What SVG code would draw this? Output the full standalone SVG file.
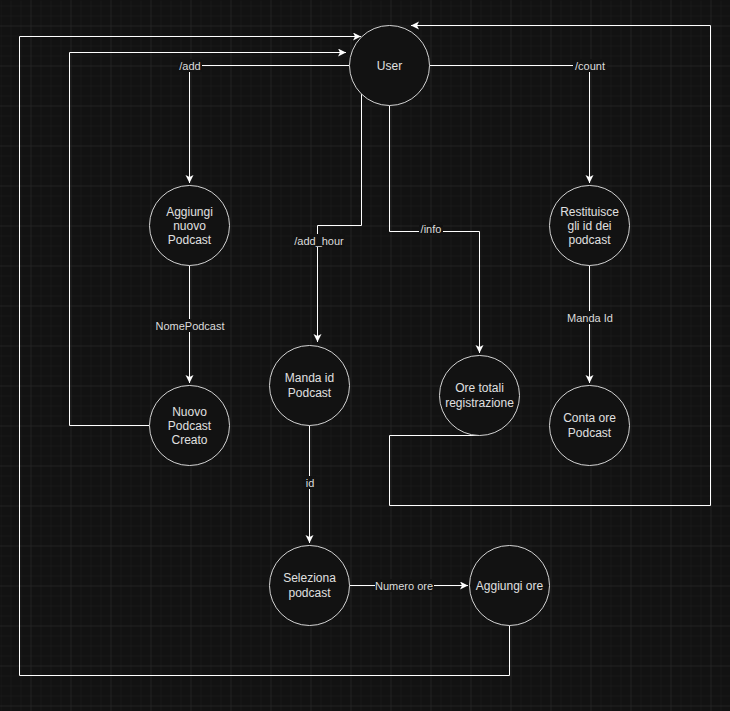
<svg xmlns="http://www.w3.org/2000/svg" width="730" height="711" viewBox="0 0 730 711">
<defs>
<pattern id="minor" width="10" height="10" patternUnits="userSpaceOnUse" x="0" y="5">
<path d="M10 0H0V10" fill="none" stroke="#1d1d1d" stroke-width="1"/>
</pattern>
<pattern id="major" width="40" height="40" patternUnits="userSpaceOnUse" x="30.5" y="25.5">
<path d="M40 0H0V40" fill="none" stroke="#2a2a2a" stroke-width="1"/>
</pattern>
<marker id="arr" markerWidth="10" markerHeight="10" refX="8" refY="4" orient="auto" markerUnits="userSpaceOnUse">
<path d="M0 0 L8 4 L0 8 L2 4 Z" fill="#ffffff"/>
</marker>
<style>
.bg{fill:#121212}
.node circle{fill:#121212;stroke:#d4d4d4;stroke-width:1}
.node text{font-family:"Liberation Sans",Arial,sans-serif;font-size:12px;fill:#e0e0e0;text-anchor:middle}
.edge{fill:none;stroke:#ffffff;stroke-width:1}
.lbl rect{fill:#121212}
.lbl text{font-family:"Liberation Sans",Arial,sans-serif;font-size:11px;fill:#dcdcdc;text-anchor:middle}
</style>
</defs>
<rect class="bg" x="0" y="0" width="730" height="711"/>
<rect x="0" y="0" width="730" height="711" fill="url(#minor)" transform="translate(0.5,0.5)"/>
<rect x="0" y="0" width="730" height="711" fill="url(#major)"/>
<g id="connectors">
<path class="edge" d="M349.5 65.5H189.5V183" marker-end="url(#arr)"/>
<path class="edge" d="M429.5 65.5H589.5V183" marker-end="url(#arr)"/>
<path class="edge" d="M189.5 265.5V383" marker-end="url(#arr)"/>
<path class="edge" d="M589.5 265.5V383" marker-end="url(#arr)"/>
<path class="edge" d="M361.5 93.5V225.5H317.5V342" marker-end="url(#arr)"/>
<path class="edge" d="M389.5 105.5V231.5H479.5V353" marker-end="url(#arr)"/>
<path class="edge" d="M309.5 425.5V543" marker-end="url(#arr)"/>
<path class="edge" d="M349.5 585.5H468" marker-end="url(#arr)"/>
<path class="edge" d="M149.5 425.5H69.5V52.5H346" marker-end="url(#arr)"/>
<path class="edge" d="M509.5 625.5V675.5H19.5V36.5H361" marker-end="url(#arr)"/>
<path class="edge" d="M479.5 435.5H389.5V505.5H710.5V25.5H411" marker-end="url(#arr)"/>
<g class="lbl">
<rect x="178" y="59" width="24" height="13"/><text x="190" y="70">/add</text>
<rect x="573" y="59" width="34" height="13"/><text x="590" y="70">/count</text>
<rect x="156" y="319" width="68" height="13"/><text x="190" y="330">NomePodcast</text>
<rect x="566" y="311" width="48" height="13"/><text x="590" y="322">Manda Id</text>
<rect x="293" y="234" width="52" height="13"/><text x="319" y="245">/add_hour</text>
<rect x="419" y="222" width="24" height="13"/><text x="431" y="233">/info</text>
<rect x="304" y="476" width="12" height="13"/><text x="310" y="487">id</text>
<rect x="375" y="579" width="59" height="13"/><text x="404" y="590">Numero ore</text>
</g>
</g>
<g id="user" class="node"><circle cx="389.5" cy="65.5" r="40"/><text x="389.5" y="69.5">User</text></g>
<g id="aggiungi-nuovo" class="node"><circle cx="189.5" cy="225.5" r="40"/><text x="189.5" y="215.5">Aggiungi</text><text x="189.5" y="229.5">nuovo</text><text x="189.5" y="243.5">Podcast</text></g>
<g id="restituisce" class="node"><circle cx="589.5" cy="225.5" r="40"/><text x="589.5" y="215.5">Restituisce</text><text x="589.5" y="229.5">gli id dei</text><text x="589.5" y="243.5">podcast</text></g>
<g id="nuovo-creato" class="node"><circle cx="189.5" cy="425.5" r="40"/><text x="189.5" y="415.5">Nuovo</text><text x="189.5" y="429.5">Podcast</text><text x="189.5" y="443.5">Creato</text></g>
<g id="manda-id" class="node"><circle cx="309.5" cy="385.5" r="40"/><text x="309.5" y="382">Manda id</text><text x="309.5" y="396.5">Podcast</text></g>
<g id="ore-totali" class="node"><circle cx="479.5" cy="395.5" r="40"/><text x="479.5" y="392">Ore totali</text><text x="479.5" y="406.5">registrazione</text></g>
<g id="conta-ore" class="node"><circle cx="589.5" cy="425.5" r="40"/><text x="589.5" y="422">Conta ore</text><text x="589.5" y="436.5">Podcast</text></g>
<g id="seleziona" class="node"><circle cx="309.5" cy="585.5" r="40"/><text x="309.5" y="582">Seleziona</text><text x="309.5" y="596.5">podcast</text></g>
<g id="aggiungi-ore" class="node"><circle cx="509.5" cy="585.5" r="40"/><text x="509.5" y="589.5">Aggiungi ore</text></g>
</svg>
